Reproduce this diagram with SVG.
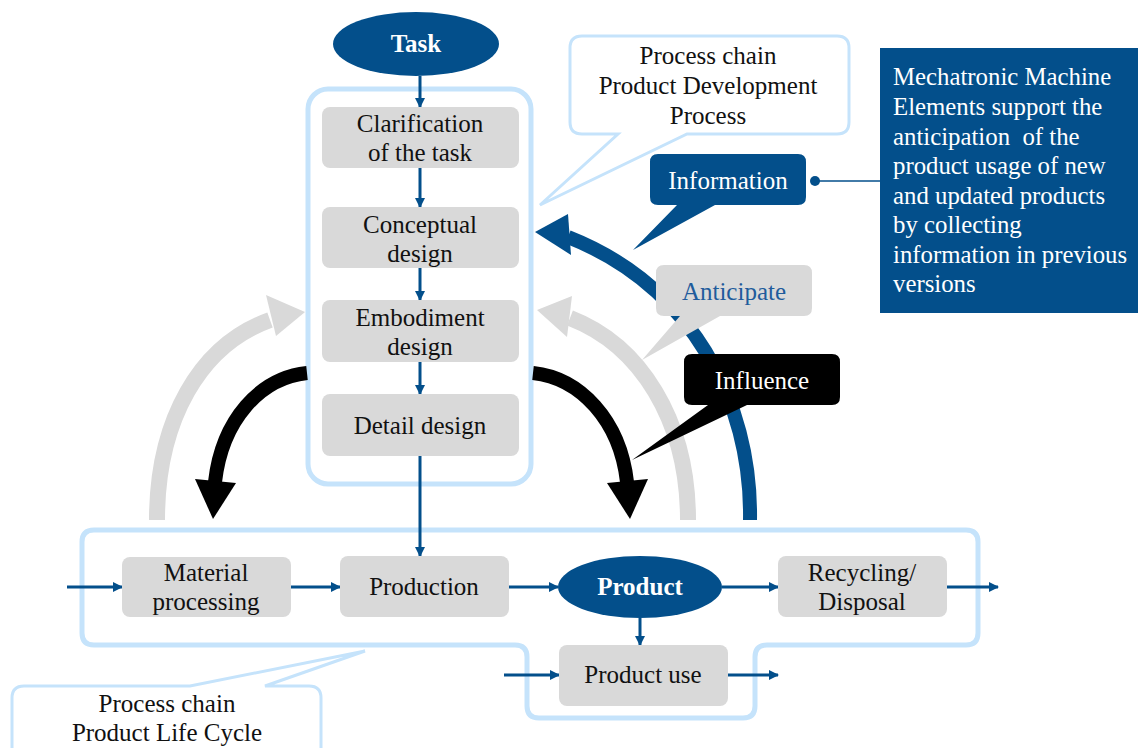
<svg xmlns="http://www.w3.org/2000/svg" width="1138" height="748" viewBox="0 0 1138 748">
  <defs>
    <marker id="ah" markerWidth="10" markerHeight="10" refX="9" refY="5" orient="auto" markerUnits="userSpaceOnUse">
      <path d="M0,0 L10,5 L0,10 z" fill="#034f8b"/>
    </marker>
    <style>
      text { font-family: "Liberation Serif", "Times New Roman", serif; font-size: 25px; text-anchor: middle; }
      .dark { fill: #111; }
      .white { fill: #fff; }
      .bold { font-weight: bold; }
      .step { fill: #d9d9d9; }
      .frame { fill: none; stroke: #c5e3fb; stroke-width: 5; }
      .flow { fill: none; stroke: #034f8b; stroke-width: 3; marker-end: url(#ah); }
      .blue { fill: #034f8b; }
      .left { text-anchor: start; font-size: 24.8px; }
    </style>
  </defs>
  <rect width="1138" height="748" fill="#fff"/>

  <!-- process chain frames -->
  <g id="pdp-frame">
    <rect class="frame" x="308" y="89" width="223" height="395" rx="20"/>
  </g>
  <g id="plc-frame">
    <path class="frame" d="M96,530 H966 Q978,530 978,542 V633 Q978,645 966,645 H767 Q755,645 755,657 V706 Q755,718 743,718 H539 Q527,718 527,706 V657 Q527,645 515,645 H94 Q82,645 82,633 V542 Q82,530 94,530 Z"/>
  </g>

  <!-- curved arrows -->
  <g id="arcs">
    <path d="M157,520 C157,420 200,345 270,320" fill="none" stroke="#d9d9d9" stroke-width="16"/>
    <polygon points="305,312 266,295 276,336" fill="#d9d9d9"/>
    <path d="M688,520 C688,420 640,345 570,318" fill="none" stroke="#d9d9d9" stroke-width="16"/>
    <polygon points="537,310 572,296 567,337" fill="#d9d9d9"/>
    <path d="M750,520 C752,400 690,285 568,237" fill="none" stroke="#034f8b" stroke-width="14"/>
    <polygon points="535,232 568,214 571,255" fill="#034f8b"/>
    <path d="M307,373 C260,378 222,420 215,482" fill="none" stroke="#000" stroke-width="14"/>
    <polygon points="213,519 195,479 236,483" fill="#000"/>
    <path d="M533,373 C580,378 620,420 627,482" fill="none" stroke="#000" stroke-width="14"/>
    <polygon points="630,519 607,483 648,479" fill="#000"/>
  </g>

  <!-- straight flow connectors -->
  <g id="connectors">
    <line class="flow" x1="420" y1="76" x2="420" y2="107"/>
    <line class="flow" x1="420" y1="168" x2="420" y2="207"/>
    <line class="flow" x1="420" y1="268" x2="420" y2="300"/>
    <line class="flow" x1="420" y1="362" x2="420" y2="394"/>
    <line class="flow" x1="420" y1="456" x2="420" y2="556"/>
    <line class="flow" x1="67" y1="587" x2="122" y2="587"/>
    <line class="flow" x1="291" y1="587" x2="340" y2="587"/>
    <line class="flow" x1="509" y1="587" x2="558" y2="587"/>
    <line class="flow" x1="722" y1="587" x2="778" y2="587"/>
    <line class="flow" x1="947" y1="587" x2="998" y2="587"/>
    <line class="flow" x1="640" y1="618" x2="640" y2="645"/>
    <line class="flow" x1="504" y1="675" x2="559" y2="675"/>
    <line class="flow" x1="728" y1="675" x2="778" y2="675"/>
    <line x1="815" y1="181" x2="880" y2="181" stroke="#034f8b" stroke-width="1.5"/>
    <circle cx="815" cy="181" r="5" fill="#034f8b"/>
  </g>

  <!-- start node -->
  <g id="task">
    <ellipse class="blue" cx="416" cy="44" rx="83" ry="32"/>
    <text class="white bold" x="416" y="52">Task</text>
  </g>

  <!-- product development steps -->
  <g id="clarification">
    <rect class="step" x="322" y="107" width="197" height="61" rx="8"/>
    <text class="dark" x="420" y="132">Clarification</text>
    <text class="dark" x="420" y="161">of the task</text>
  </g>
  <g id="conceptual">
    <rect class="step" x="322" y="207" width="197" height="61" rx="8"/>
    <text class="dark" x="420" y="233">Conceptual</text>
    <text class="dark" x="420" y="262">design</text>
  </g>
  <g id="embodiment">
    <rect class="step" x="322" y="300" width="197" height="62" rx="8"/>
    <text class="dark" x="420" y="326">Embodiment</text>
    <text class="dark" x="420" y="355">design</text>
  </g>
  <g id="detail">
    <rect class="step" x="322" y="394" width="197" height="62" rx="8"/>
    <text class="dark" x="420" y="434">Detail design</text>
  </g>

  <!-- product life cycle steps -->
  <g id="material">
    <rect class="step" x="122" y="557" width="169" height="60" rx="8"/>
    <text class="dark" x="206" y="581">Material</text>
    <text class="dark" x="206" y="610">processing</text>
  </g>
  <g id="production">
    <rect class="step" x="340" y="556" width="169" height="61" rx="8"/>
    <text class="dark" x="424" y="595">Production</text>
  </g>
  <g id="product">
    <ellipse class="blue" cx="640" cy="587" rx="82" ry="31"/>
    <text class="white bold" x="640" y="595">Product</text>
  </g>
  <g id="recycling">
    <rect class="step" x="778" y="556" width="169" height="61" rx="8"/>
    <text class="dark" x="862" y="581">Recycling/</text>
    <text class="dark" x="862" y="610">Disposal</text>
  </g>
  <g id="product-use">
    <rect class="step" x="559" y="645" width="169" height="61" rx="8"/>
    <text class="dark" x="643" y="683">Product use</text>
  </g>

  <!-- callouts -->
  <g id="callout-pdp">
    <path d="M582,36 H837 Q849,36 849,48 V122 Q849,134 837,134 H687 L540,205 L618,134 H582 Q570,134 570,122 V48 Q570,36 582,36 Z" fill="#fff" stroke="#c5e3fb" stroke-width="3"/>
    <text class="dark" x="708" y="64">Process chain</text>
    <text class="dark" x="708" y="94">Product Development</text>
    <text class="dark" x="708" y="124">Process</text>
  </g>
  <g id="callout-information">
    <path d="M658,154 H798 Q806,154 806,162 V197 Q806,205 798,205 H715 L633,250 L677,205 H658 Q650,205 650,197 V162 Q650,154 658,154 Z" fill="#034f8b"/>
    <text class="white" x="728" y="189">Information</text>
  </g>
  <g id="callout-anticipate">
    <path d="M664,265 H804 Q812,265 812,273 V308 Q812,316 804,316 H720 L642,360 L680,316 H664 Q656,316 656,308 V273 Q656,265 664,265 Z" fill="#d9d9d9"/>
    <text x="734" y="300" fill="#1f5c9c">Anticipate</text>
  </g>
  <g id="callout-influence">
    <path d="M692,354 H832 Q840,354 840,362 V397 Q840,405 832,405 H747 L632,460 L708,405 H692 Q684,405 684,397 V362 Q684,354 692,354 Z" fill="#000"/>
    <text class="white" x="762" y="389">Influence</text>
  </g>
  <g id="callout-plc">
    <path d="M24,686 H190 L365,651 L265,686 H309 Q321,686 321,698 V760 H12 V698 Q12,686 24,686 Z" fill="#fff" stroke="#c5e3fb" stroke-width="3"/>
    <text class="dark" x="167" y="712">Process chain</text>
    <text class="dark" x="167" y="741">Product Life Cycle</text>
  </g>

  <!-- explanatory note -->
  <g id="note">
    <rect x="880" y="48" width="260" height="265" fill="#034f8b"/>
    <text class="white left" x="893" y="85">Mechatronic Machine</text>
    <text class="white left" x="893" y="115">Elements support the</text>
    <text class="white left" x="893" y="145" xml:space="preserve">anticipation  of the</text>
    <text class="white left" x="893" y="174">product usage of new</text>
    <text class="white left" x="893" y="204">and updated products</text>
    <text class="white left" x="893" y="233">by collecting</text>
    <text class="white left" x="893" y="263">information in previous</text>
    <text class="white left" x="893" y="292">versions</text>
  </g>
</svg>
